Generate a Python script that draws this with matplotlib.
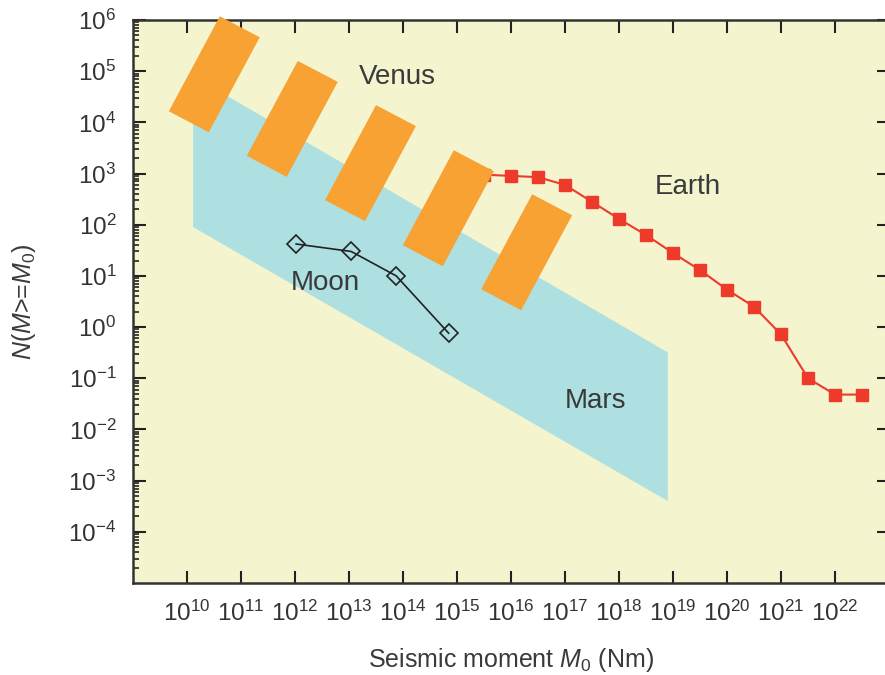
import numpy as np
import matplotlib
matplotlib.use("Agg")
import matplotlib.pyplot as plt
from matplotlib.ticker import FixedLocator, LogFormatterSciNotation, LogLocator, NullFormatter

plt.rcParams['font.family'] = ['Liberation Sans', 'DejaVu Sans']
plt.rcParams['mathtext.fontset'] = 'custom'
plt.rcParams['mathtext.rm'] = 'Liberation Sans'
plt.rcParams['mathtext.it'] = 'Liberation Sans:italic'

# Earth: cumulative number of quakes per year
earth_m0 = [10**15.5, 1e16, 10**16.5, 1e17, 10**17.5, 1e18, 10**18.5, 1e19,
            10**19.5, 1e20, 10**20.5, 1e21, 10**21.5, 1e22, 10**22.5]
earth_n = [950, 900, 850, 600, 280, 130, 63, 28, 13, 5.4, 2.5, 0.72, 0.1, 0.048, 0.048]

# Moon (Apollo seismic network)
moon_m0 = [1.05e12, 1.1e13, 7.5e13, 7.0e14]
moon_n = [42, 30, 10, 0.76]

# Mars estimate band (corners)
mars_m0 = [1.3e10, 8e18, 8e18, 1.3e10]
mars_n = [8e4, 0.32, 4e-4, 90]

# Venus estimate boxes (box centres)
venus_m0 = [3.2e10, 8.9e11, 2.5e13, 6.9e14, 1.95e16]
venus_n = [8.7e4, 1.17e4, 1.6e3, 2.1e2, 29]

# box half-axes in decades (long side, short side)
long_half = np.array([0.472, 0.928])
short_half = np.array([-0.370, 0.205])

fig = plt.figure(figsize=(8.85, 6.75), dpi=100)
ax = fig.add_axes([133 / 885, 1 - 583 / 675, 756 / 885, 563 / 675])
ax.set_facecolor('#F4F5CF')
ax.set_xscale('log')
ax.set_yscale('log')
ax.set_xlim(1e9, 1e23)
ax.set_ylim(1e-5, 1e6)

ax.fill(mars_m0, mars_n, color='#AEDFE1', lw=0, zorder=1)

ax.plot(earth_m0, earth_n, color='#EE3A2B', lw=1.5, marker='s', ms=8.5,
        mec='#EE3A2B', mfc='#EE3A2B', zorder=2)

for m, n in zip(venus_m0, venus_n):
    c = np.array([np.log10(m), np.log10(n)])
    corners = [c + long_half + short_half, c + long_half - short_half,
               c - long_half - short_half, c - long_half + short_half]
    xs = [10**p[0] for p in corners]
    ys = [10**p[1] for p in corners]
    ax.fill(xs, ys, color='#F7A233', lw=0, zorder=3, clip_on=False)

ax.plot(moon_m0, moon_n, color='#222222', lw=1.2, marker='D', ms=9,
        mfc='none', mec='#222222', mew=1.2, zorder=4)

txt = dict(fontsize=20, color='#3a3a3a', ha='center', va='center', zorder=5)
ax.text(7.8e13, 7.8e4, 'Venus', **txt)
ax.text(1.9e19, 5.5e2, 'Earth', **txt)
ax.text(3.7e12, 7.2, 'Moon', **txt)
ax.text(3.7e17, 3.6e-2, 'Mars', **txt)

xticks = [10.0**k for k in range(10, 24)]
ax.xaxis.set_major_locator(FixedLocator(xticks))
ax.xaxis.set_minor_locator(FixedLocator([]))
fmt = LogFormatterSciNotation()
ax.xaxis.set_major_formatter(lambda v, pos: '' if v > 5e22 else fmt(v, pos))
ax.yaxis.set_major_locator(FixedLocator([10.0**k for k in range(-4, 7)]))
ax.yaxis.set_major_formatter(LogFormatterSciNotation())
ax.yaxis.set_minor_locator(LogLocator(base=10, subs=np.arange(2, 10), numticks=30))
ax.yaxis.set_minor_formatter(NullFormatter())

ax.tick_params(which='major', direction='in', length=9, width=1.5, color='#222222',
               top=True, right=True, labelsize=17.5, labelcolor='#333333')
ax.tick_params(axis='x', which='major', pad=13)
ax.tick_params(axis='y', which='major', pad=12)
ax.tick_params(axis='y', which='minor', direction='in', length=4.5, width=1.2,
               color='#222222', left=True, right=False)
for s in ax.spines.values():
    s.set_linewidth(1.8)
    s.set_color('#333333')

ax.set_xlabel(r'Seismic moment $\it{M}_0$ (Nm)', fontsize=18, color='#3a3a3a', labelpad=14)
ax.set_ylabel(r'$\it{N}$($\it{M}$>=$\it{M}_0$)', fontsize=18, color='#3a3a3a', labelpad=22)

fig.savefig('out.png', dpi=100)
